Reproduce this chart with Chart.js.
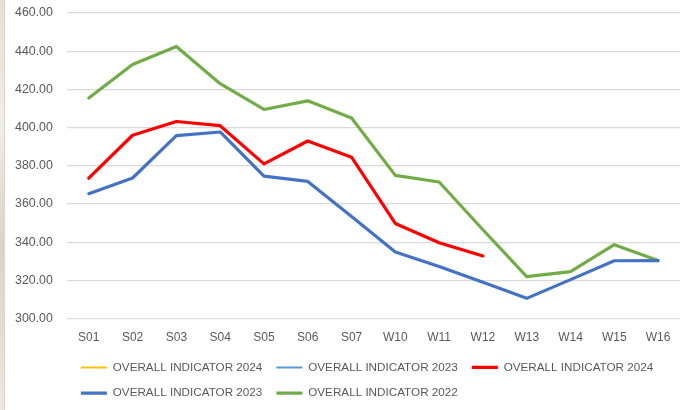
<!DOCTYPE html>
<html>
<head>
<meta charset="utf-8">
<script src="https://cdn.jsdelivr.net/npm/chart.js@4/dist/chart.umd.min.js"></script>
<style>
    html, body { margin: 0; padding: 0; background: #fff; }
    #wrap { position: relative; width: 691px; height: 410px; }
    #edge {
        position: absolute; left: 0; top: 0; width: 4px; height: 410px;
        background: linear-gradient(180deg, #e9dfd0, #f3ece2 30%, #dcd2c4 60%, #efe7dc);
        border-right: 1px solid #d4d4d4;
    }
</style>
</head>
<body>
<div id="wrap">
    <div id="edge"></div>
    <canvas id="chart" width="691" height="410"></canvas>
</div>
<script>
    var weeks = ['S01', 'S02', 'S03', 'S04', 'S05', 'S06', 'S07', 'W10', 'W11', 'W12', 'W13', 'W14', 'W15', 'W16'];

    // series that are in the legend but have no points
    var indicator2024a = [null, null, null, null, null, null, null, null, null, null, null, null, null, null];
    var indicator2023a = [null, null, null, null, null, null, null, null, null, null, null, null, null, null];

    var indicator2024 = [373.5, 396, 403.2, 401, 381, 393, 384.5, 349.8, 339.7, 332.8, null, null, null, null];
    var indicator2023 = [365.4, 373.6, 395.8, 397.7, 374.6, 371.8, 353.4, 334.9, 327.3, 319, 310.6, 320.4, 330.3, 330.4];
    var indicator2022 = [415.5, 433, 442.5, 423, 409.5, 414, 405, 375, 371.5, 346.5, 322, 324.6, 338.7, 330.4];

    var lineSet = function(label, data, color, width) {
        return {
            label : label,
            data : data,
            borderColor : color,
            backgroundColor : color,
            borderWidth : width,
            pointRadius : 0,
            pointHoverRadius : 0,
            tension : 0,
            spanGaps : false,
            borderCapStyle : 'round',
            borderJoinStyle : 'round',
            pointStyle : 'line'
        };
    };

    var ctx = document.getElementById('chart').getContext('2d');
    new Chart(ctx, {
        type : 'line',
        data : {
            labels : weeks,
            datasets : [
                lineSet('OVERALL INDICATOR 2024', indicator2024a, '#FFC000', 2),
                lineSet('OVERALL INDICATOR 2023', indicator2023a, '#5B9BD5', 2),
                lineSet('OVERALL INDICATOR 2024', indicator2024, '#FF0000', 3.2),
                lineSet('OVERALL INDICATOR 2023', indicator2023, '#4472C4', 3.2),
                lineSet('OVERALL INDICATOR 2022', indicator2022, '#70AD47', 3.2)
            ]
        },
        options : {
            responsive : false,
            animation : false,
            layout : {
                padding : { left : 1, right : 11, top : 13, bottom : 1 }
            },
            plugins : {
                tooltip : { enabled : false },
                legend : {
                    position : 'bottom',
                    align : 'start',
                    fullSize : false,
                    labels : {
                        usePointStyle : true,
                        pointStyleWidth : 26,
                        padding : 14,
                        color : '#595959',
                        font : { family : 'Liberation Sans, Arial, sans-serif', size : 11.7 }
                    }
                }
            },
            scales : {
                x : {
                    offset : true,
                    grid : { display : false, drawTicks : false },
                    border : { display : false },
                    ticks : {
                        color : '#595959',
                        padding : 12,
                        maxRotation : 0,
                        font : { family : 'Liberation Sans, Arial, sans-serif', size : 12 }
                    },
                    afterFit : function(scale) {
                        scale.height = 29;
                    }
                },
                y : {
                    min : 300,
                    max : 460,
                    border : { display : false },
                    grid : { color : '#d9d9d9', lineWidth : 1.3, drawTicks : false },
                    ticks : {
                        stepSize : 20,
                        padding : 14,
                        color : '#595959',
                        font : { family : 'Liberation Sans, Arial, sans-serif', size : 12.4 },
                        callback : function(value) { return value.toFixed(2); }
                    },
                    afterFit : function(scale) {
                        scale.paddingTop = 0;
                        scale.paddingBottom = 0;
                    }
                }
            }
        }
    });
</script>
</body>
</html>
